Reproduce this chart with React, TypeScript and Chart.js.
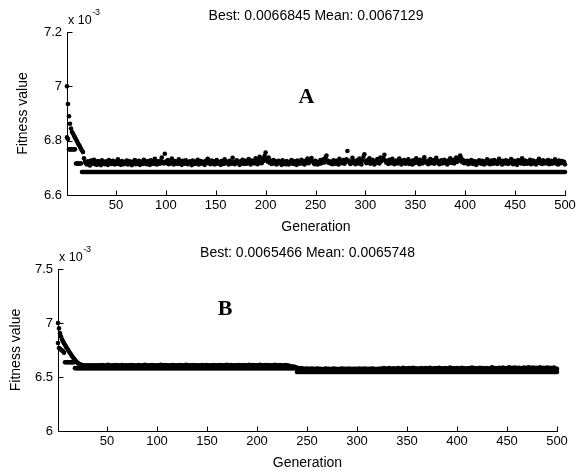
import React, { useEffect, useRef } from "react";
import { Chart, registerables } from "chart.js";

Chart.register(...registerables);

// ---------- data (values in units of 1e-3) ----------
const generations: number[] = Array.from({ length: 500 }, (_, i) => i + 1);
const xTickValues = [50, 100, 150, 200, 250, 300, 350, 400, 450, 500];
const yTicksA = [6.6, 6.8, 7.0, 7.2];
const yTicksB = [6.0, 6.5, 7.0, 7.5];
const titleA = "Best: 0.0066845 Mean: 0.0067129";
const titleB = "Best: 0.0065466 Mean: 0.0065748";

const bestA = [
  6.812, 6.806, 6.768, 6.768, 6.768, 6.768, 6.768, 6.768, 6.768, 6.716, 6.716, 6.716, 6.716, 6.716, 6.716, 6.6845, 6.6845, 6.6845, 6.6845, 6.6845,
  6.6845, 6.6845, 6.6845, 6.6845, 6.6845, 6.6845, 6.6845, 6.6845, 6.6845, 6.6845, 6.6845, 6.6845, 6.6845, 6.6845, 6.6845, 6.6845, 6.6845, 6.6845, 6.6845, 6.6845,
  6.6845, 6.6845, 6.6845, 6.6845, 6.6845, 6.6845, 6.6845, 6.6845, 6.6845, 6.6845, 6.6845, 6.6845, 6.6845, 6.6845, 6.6845, 6.6845, 6.6845, 6.6845, 6.6845, 6.6845,
  6.6845, 6.6845, 6.6845, 6.6845, 6.6845, 6.6845, 6.6845, 6.6845, 6.6845, 6.6845, 6.6845, 6.6845, 6.6845, 6.6845, 6.6845, 6.6845, 6.6845, 6.6845, 6.6845, 6.6845,
  6.6845, 6.6845, 6.6845, 6.6845, 6.6845, 6.6845, 6.6845, 6.6845, 6.6845, 6.6845, 6.6845, 6.6845, 6.6845, 6.6845, 6.6845, 6.6845, 6.6845, 6.6845, 6.6845, 6.6845,
  6.6845, 6.6845, 6.6845, 6.6845, 6.6845, 6.6845, 6.6845, 6.6845, 6.6845, 6.6845, 6.6845, 6.6845, 6.6845, 6.6845, 6.6845, 6.6845, 6.6845, 6.6845, 6.6845, 6.6845,
  6.6845, 6.6845, 6.6845, 6.6845, 6.6845, 6.6845, 6.6845, 6.6845, 6.6845, 6.6845, 6.6845, 6.6845, 6.6845, 6.6845, 6.6845, 6.6845, 6.6845, 6.6845, 6.6845, 6.6845,
  6.6845, 6.6845, 6.6845, 6.6845, 6.6845, 6.6845, 6.6845, 6.6845, 6.6845, 6.6845, 6.6845, 6.6845, 6.6845, 6.6845, 6.6845, 6.6845, 6.6845, 6.6845, 6.6845, 6.6845,
  6.6845, 6.6845, 6.6845, 6.6845, 6.6845, 6.6845, 6.6845, 6.6845, 6.6845, 6.6845, 6.6845, 6.6845, 6.6845, 6.6845, 6.6845, 6.6845, 6.6845, 6.6845, 6.6845, 6.6845,
  6.6845, 6.6845, 6.6845, 6.6845, 6.6845, 6.6845, 6.6845, 6.6845, 6.6845, 6.6845, 6.6845, 6.6845, 6.6845, 6.6845, 6.6845, 6.6845, 6.6845, 6.6845, 6.6845, 6.6845,
  6.6845, 6.6845, 6.6845, 6.6845, 6.6845, 6.6845, 6.6845, 6.6845, 6.6845, 6.6845, 6.6845, 6.6845, 6.6845, 6.6845, 6.6845, 6.6845, 6.6845, 6.6845, 6.6845, 6.6845,
  6.6845, 6.6845, 6.6845, 6.6845, 6.6845, 6.6845, 6.6845, 6.6845, 6.6845, 6.6845, 6.6845, 6.6845, 6.6845, 6.6845, 6.6845, 6.6845, 6.6845, 6.6845, 6.6845, 6.6845,
  6.6845, 6.6845, 6.6845, 6.6845, 6.6845, 6.6845, 6.6845, 6.6845, 6.6845, 6.6845, 6.6845, 6.6845, 6.6845, 6.6845, 6.6845, 6.6845, 6.6845, 6.6845, 6.6845, 6.6845,
  6.6845, 6.6845, 6.6845, 6.6845, 6.6845, 6.6845, 6.6845, 6.6845, 6.6845, 6.6845, 6.6845, 6.6845, 6.6845, 6.6845, 6.6845, 6.6845, 6.6845, 6.6845, 6.6845, 6.6845,
  6.6845, 6.6845, 6.6845, 6.6845, 6.6845, 6.6845, 6.6845, 6.6845, 6.6845, 6.6845, 6.6845, 6.6845, 6.6845, 6.6845, 6.6845, 6.6845, 6.6845, 6.6845, 6.6845, 6.6845,
  6.6845, 6.6845, 6.6845, 6.6845, 6.6845, 6.6845, 6.6845, 6.6845, 6.6845, 6.6845, 6.6845, 6.6845, 6.6845, 6.6845, 6.6845, 6.6845, 6.6845, 6.6845, 6.6845, 6.6845,
  6.6845, 6.6845, 6.6845, 6.6845, 6.6845, 6.6845, 6.6845, 6.6845, 6.6845, 6.6845, 6.6845, 6.6845, 6.6845, 6.6845, 6.6845, 6.6845, 6.6845, 6.6845, 6.6845, 6.6845,
  6.6845, 6.6845, 6.6845, 6.6845, 6.6845, 6.6845, 6.6845, 6.6845, 6.6845, 6.6845, 6.6845, 6.6845, 6.6845, 6.6845, 6.6845, 6.6845, 6.6845, 6.6845, 6.6845, 6.6845,
  6.6845, 6.6845, 6.6845, 6.6845, 6.6845, 6.6845, 6.6845, 6.6845, 6.6845, 6.6845, 6.6845, 6.6845, 6.6845, 6.6845, 6.6845, 6.6845, 6.6845, 6.6845, 6.6845, 6.6845,
  6.6845, 6.6845, 6.6845, 6.6845, 6.6845, 6.6845, 6.6845, 6.6845, 6.6845, 6.6845, 6.6845, 6.6845, 6.6845, 6.6845, 6.6845, 6.6845, 6.6845, 6.6845, 6.6845, 6.6845,
  6.6845, 6.6845, 6.6845, 6.6845, 6.6845, 6.6845, 6.6845, 6.6845, 6.6845, 6.6845, 6.6845, 6.6845, 6.6845, 6.6845, 6.6845, 6.6845, 6.6845, 6.6845, 6.6845, 6.6845,
  6.6845, 6.6845, 6.6845, 6.6845, 6.6845, 6.6845, 6.6845, 6.6845, 6.6845, 6.6845, 6.6845, 6.6845, 6.6845, 6.6845, 6.6845, 6.6845, 6.6845, 6.6845, 6.6845, 6.6845,
  6.6845, 6.6845, 6.6845, 6.6845, 6.6845, 6.6845, 6.6845, 6.6845, 6.6845, 6.6845, 6.6845, 6.6845, 6.6845, 6.6845, 6.6845, 6.6845, 6.6845, 6.6845, 6.6845, 6.6845,
  6.6845, 6.6845, 6.6845, 6.6845, 6.6845, 6.6845, 6.6845, 6.6845, 6.6845, 6.6845, 6.6845, 6.6845, 6.6845, 6.6845, 6.6845, 6.6845, 6.6845, 6.6845, 6.6845, 6.6845,
  6.6845, 6.6845, 6.6845, 6.6845, 6.6845, 6.6845, 6.6845, 6.6845, 6.6845, 6.6845, 6.6845, 6.6845, 6.6845, 6.6845, 6.6845, 6.6845, 6.6845, 6.6845, 6.6845, 6.6845,
];

const meanA = [
  7.000, 6.935, 6.890, 6.862, 6.845, 6.832, 6.826, 6.818, 6.812, 6.805, 6.798, 6.790, 6.784, 6.778, 6.770, 6.764, 6.758, 6.735, 6.722, 6.716,
  6.712, 6.724, 6.718, 6.709, 6.727, 6.715, 6.721, 6.730, 6.713, 6.719, 6.711, 6.725, 6.717, 6.722, 6.710, 6.728, 6.716, 6.720, 6.713, 6.724,
  6.718, 6.711, 6.729, 6.715, 6.721, 6.714, 6.726, 6.719, 6.712, 6.723, 6.716, 6.731, 6.714, 6.720, 6.711, 6.725, 6.718, 6.713, 6.722, 6.717,
  6.727, 6.712, 6.719, 6.724, 6.715, 6.710, 6.722, 6.716, 6.729, 6.713, 6.720, 6.717, 6.726, 6.711, 6.723, 6.718, 6.714, 6.730, 6.716, 6.721,
  6.713, 6.725, 6.719, 6.711, 6.728, 6.716, 6.722, 6.714, 6.733, 6.718, 6.712, 6.724, 6.720, 6.715, 6.727, 6.738, 6.721, 6.716, 6.752, 6.723,
  6.717, 6.729, 6.713, 6.721, 6.716, 6.734, 6.719, 6.712, 6.725, 6.718, 6.722, 6.714, 6.731, 6.717, 6.720, 6.711, 6.726, 6.719, 6.715, 6.728,
  6.721, 6.713, 6.718, 6.724, 6.716, 6.710, 6.727, 6.719, 6.714, 6.723, 6.717, 6.730, 6.712, 6.720, 6.725, 6.715, 6.722, 6.718, 6.711, 6.726,
  6.719, 6.733, 6.716, 6.721, 6.713, 6.727, 6.718, 6.724, 6.712, 6.720, 6.729, 6.715, 6.722, 6.717, 6.711, 6.725, 6.719, 6.714, 6.731, 6.718,
  6.723, 6.716, 6.712, 6.726, 6.720, 6.715, 6.737, 6.721, 6.713, 6.719, 6.728, 6.717, 6.722, 6.711, 6.724, 6.718, 6.730, 6.714, 6.720, 6.726,
  6.715, 6.721, 6.732, 6.718, 6.712, 6.727, 6.719, 6.724, 6.716, 6.735, 6.720, 6.713, 6.729, 6.741, 6.722, 6.717, 6.733, 6.725, 6.744, 6.756,
  6.731, 6.723, 6.738, 6.719, 6.727, 6.714, 6.721, 6.729, 6.716, 6.724, 6.712, 6.719, 6.726, 6.717, 6.722, 6.711, 6.728, 6.715, 6.720, 6.713,
  6.725, 6.718, 6.712, 6.722, 6.716, 6.729, 6.720, 6.714, 6.724, 6.717, 6.711, 6.727, 6.719, 6.715, 6.721, 6.730, 6.716, 6.723, 6.712, 6.726,
  6.719, 6.734, 6.717, 6.722, 6.728, 6.736, 6.724, 6.719, 6.713, 6.726, 6.718, 6.712, 6.721, 6.715, 6.729, 6.717, 6.723, 6.731, 6.720, 6.738,
  6.745, 6.727, 6.719, 6.724, 6.716, 6.721, 6.713, 6.728, 6.720, 6.715, 6.726, 6.718, 6.712, 6.733, 6.721, 6.717, 6.724, 6.729, 6.715, 6.722,
  6.731, 6.762, 6.727, 6.719, 6.714, 6.723, 6.737, 6.718, 6.725, 6.713, 6.721, 6.729, 6.716, 6.734, 6.720, 6.712, 6.726, 6.740, 6.750, 6.724,
  6.717, 6.728, 6.721, 6.735, 6.715, 6.723, 6.730, 6.719, 6.712, 6.726, 6.718, 6.732, 6.722, 6.716, 6.738, 6.724, 6.729, 6.736, 6.748, 6.727,
  6.719, 6.725, 6.714, 6.730, 6.721, 6.717, 6.733, 6.724, 6.713, 6.720, 6.727, 6.716, 6.722, 6.734, 6.718, 6.712, 6.726, 6.720, 6.729, 6.715,
  6.723, 6.718, 6.731, 6.714, 6.725, 6.720, 6.712, 6.728, 6.717, 6.722, 6.735, 6.719, 6.724, 6.713, 6.730, 6.721, 6.716, 6.727, 6.739, 6.722,
  6.718, 6.726, 6.713, 6.721, 6.732, 6.717, 6.724, 6.729, 6.715, 6.720, 6.737, 6.726, 6.719, 6.713, 6.723, 6.728, 6.716, 6.721, 6.730, 6.718,
  6.724, 6.712, 6.727, 6.720, 6.735, 6.718, 6.723, 6.729, 6.716, 6.731, 6.738, 6.722, 6.733, 6.727, 6.745, 6.736, 6.721, 6.728, 6.717, 6.724,
  6.719, 6.726, 6.713, 6.722, 6.716, 6.729, 6.720, 6.714, 6.725, 6.718, 6.711, 6.723, 6.717, 6.728, 6.721, 6.715, 6.726, 6.719, 6.712, 6.724,
  6.718, 6.731, 6.716, 6.722, 6.713, 6.727, 6.720, 6.715, 6.729, 6.719, 6.724, 6.714, 6.721, 6.733, 6.717, 6.723, 6.712, 6.726, 6.719, 6.716,
  6.728, 6.721, 6.714, 6.725, 6.718, 6.732, 6.720, 6.713, 6.726, 6.717, 6.722, 6.711, 6.729, 6.719, 6.724, 6.716, 6.735, 6.721, 6.714, 6.727,
  6.720, 6.715, 6.724, 6.718, 6.730, 6.713, 6.722, 6.727, 6.716, 6.721, 6.712, 6.725, 6.719, 6.733, 6.717, 6.723, 6.714, 6.728, 6.720, 6.716,
  6.724, 6.718, 6.729, 6.713, 6.721, 6.726, 6.715, 6.722, 6.719, 6.731, 6.716, 6.724, 6.712, 6.727, 6.720, 6.717, 6.725, 6.719, 6.722, 6.7129,
];

const bestB = [
  6.815, 6.768, 6.760, 6.752, 6.745, 6.738, 6.725, 6.636, 6.636, 6.636, 6.636, 6.636, 6.636, 6.636, 6.636, 6.636, 6.636, 6.582, 6.582, 6.582,
  6.582, 6.582, 6.582, 6.582, 6.582, 6.582, 6.582, 6.582, 6.582, 6.582, 6.582, 6.582, 6.582, 6.582, 6.582, 6.582, 6.582, 6.582, 6.582, 6.582,
  6.582, 6.582, 6.582, 6.582, 6.582, 6.582, 6.582, 6.582, 6.582, 6.582, 6.582, 6.582, 6.582, 6.582, 6.582, 6.582, 6.582, 6.582, 6.582, 6.582,
  6.582, 6.582, 6.582, 6.582, 6.582, 6.582, 6.582, 6.582, 6.582, 6.582, 6.582, 6.582, 6.582, 6.582, 6.582, 6.582, 6.582, 6.582, 6.582, 6.582,
  6.582, 6.582, 6.582, 6.582, 6.582, 6.582, 6.582, 6.582, 6.582, 6.582, 6.582, 6.582, 6.582, 6.582, 6.582, 6.582, 6.582, 6.582, 6.582, 6.582,
  6.582, 6.582, 6.582, 6.582, 6.582, 6.582, 6.582, 6.582, 6.582, 6.582, 6.582, 6.582, 6.582, 6.582, 6.582, 6.582, 6.582, 6.582, 6.582, 6.582,
  6.582, 6.582, 6.582, 6.582, 6.582, 6.582, 6.582, 6.582, 6.582, 6.582, 6.582, 6.582, 6.582, 6.582, 6.582, 6.582, 6.582, 6.582, 6.582, 6.582,
  6.582, 6.582, 6.582, 6.582, 6.582, 6.582, 6.582, 6.582, 6.582, 6.582, 6.582, 6.582, 6.582, 6.582, 6.582, 6.582, 6.582, 6.582, 6.582, 6.582,
  6.582, 6.582, 6.582, 6.582, 6.582, 6.582, 6.582, 6.582, 6.582, 6.582, 6.582, 6.582, 6.582, 6.582, 6.582, 6.582, 6.582, 6.582, 6.582, 6.582,
  6.582, 6.582, 6.582, 6.582, 6.582, 6.582, 6.582, 6.582, 6.582, 6.582, 6.582, 6.582, 6.582, 6.582, 6.582, 6.582, 6.582, 6.582, 6.582, 6.582,
  6.582, 6.582, 6.582, 6.582, 6.582, 6.582, 6.582, 6.582, 6.582, 6.582, 6.582, 6.582, 6.582, 6.582, 6.582, 6.582, 6.582, 6.582, 6.582, 6.582,
  6.582, 6.582, 6.582, 6.582, 6.582, 6.582, 6.582, 6.582, 6.582, 6.582, 6.582, 6.582, 6.582, 6.582, 6.582, 6.582, 6.582, 6.582, 6.582, 6.5466,
  6.5466, 6.5466, 6.5466, 6.5466, 6.5466, 6.5466, 6.5466, 6.5466, 6.5466, 6.5466, 6.5466, 6.5466, 6.5466, 6.5466, 6.5466, 6.5466, 6.5466, 6.5466, 6.5466, 6.5466,
  6.5466, 6.5466, 6.5466, 6.5466, 6.5466, 6.5466, 6.5466, 6.5466, 6.5466, 6.5466, 6.5466, 6.5466, 6.5466, 6.5466, 6.5466, 6.5466, 6.5466, 6.5466, 6.5466, 6.5466,
  6.5466, 6.5466, 6.5466, 6.5466, 6.5466, 6.5466, 6.5466, 6.5466, 6.5466, 6.5466, 6.5466, 6.5466, 6.5466, 6.5466, 6.5466, 6.5466, 6.5466, 6.5466, 6.5466, 6.5466,
  6.5466, 6.5466, 6.5466, 6.5466, 6.5466, 6.5466, 6.5466, 6.5466, 6.5466, 6.5466, 6.5466, 6.5466, 6.5466, 6.5466, 6.5466, 6.5466, 6.5466, 6.5466, 6.5466, 6.5466,
  6.5466, 6.5466, 6.5466, 6.5466, 6.5466, 6.5466, 6.5466, 6.5466, 6.5466, 6.5466, 6.5466, 6.5466, 6.5466, 6.5466, 6.5466, 6.5466, 6.5466, 6.5466, 6.5466, 6.5466,
  6.5466, 6.5466, 6.5466, 6.5466, 6.5466, 6.5466, 6.5466, 6.5466, 6.5466, 6.5466, 6.5466, 6.5466, 6.5466, 6.5466, 6.5466, 6.5466, 6.5466, 6.5466, 6.5466, 6.5466,
  6.5466, 6.5466, 6.5466, 6.5466, 6.5466, 6.5466, 6.5466, 6.5466, 6.5466, 6.5466, 6.5466, 6.5466, 6.5466, 6.5466, 6.5466, 6.5466, 6.5466, 6.5466, 6.5466, 6.5466,
  6.5466, 6.5466, 6.5466, 6.5466, 6.5466, 6.5466, 6.5466, 6.5466, 6.5466, 6.5466, 6.5466, 6.5466, 6.5466, 6.5466, 6.5466, 6.5466, 6.5466, 6.5466, 6.5466, 6.5466,
  6.5466, 6.5466, 6.5466, 6.5466, 6.5466, 6.5466, 6.5466, 6.5466, 6.5466, 6.5466, 6.5466, 6.5466, 6.5466, 6.5466, 6.5466, 6.5466, 6.5466, 6.5466, 6.5466, 6.5466,
  6.5466, 6.5466, 6.5466, 6.5466, 6.5466, 6.5466, 6.5466, 6.5466, 6.5466, 6.5466, 6.5466, 6.5466, 6.5466, 6.5466, 6.5466, 6.5466, 6.5466, 6.5466, 6.5466, 6.5466,
  6.5466, 6.5466, 6.5466, 6.5466, 6.5466, 6.5466, 6.5466, 6.5466, 6.5466, 6.5466, 6.5466, 6.5466, 6.5466, 6.5466, 6.5466, 6.5466, 6.5466, 6.5466, 6.5466, 6.5466,
  6.5466, 6.5466, 6.5466, 6.5466, 6.5466, 6.5466, 6.5466, 6.5466, 6.5466, 6.5466, 6.5466, 6.5466, 6.5466, 6.5466, 6.5466, 6.5466, 6.5466, 6.5466, 6.5466, 6.5466,
  6.5466, 6.5466, 6.5466, 6.5466, 6.5466, 6.5466, 6.5466, 6.5466, 6.5466, 6.5466, 6.5466, 6.5466, 6.5466, 6.5466, 6.5466, 6.5466, 6.5466, 6.5466, 6.5466, 6.5466,
];

const meanB = [
  7.000, 6.950, 6.905, 6.875, 6.850, 6.830, 6.812, 6.796, 6.781, 6.766, 6.751, 6.737, 6.722, 6.708, 6.694, 6.680, 6.668, 6.656, 6.645, 6.636,
  6.628, 6.622, 6.617, 6.613, 6.610, 6.606, 6.609, 6.604, 6.607, 6.603, 6.608, 6.605, 6.602, 6.609, 6.604, 6.606, 6.601, 6.608, 6.603, 6.607,
  6.604, 6.609, 6.602, 6.607, 6.611, 6.603, 6.606, 6.600, 6.608, 6.605, 6.612, 6.603, 6.607, 6.601, 6.609, 6.604, 6.606, 6.610, 6.602, 6.605,
  6.608, 6.603, 6.606, 6.601, 6.610, 6.604, 6.607, 6.602, 6.609, 6.605, 6.600, 6.608, 6.604, 6.611, 6.603, 6.606, 6.609, 6.602, 6.607, 6.604,
  6.606, 6.610, 6.603, 6.607, 6.601, 6.608, 6.605, 6.612, 6.604, 6.606, 6.602, 6.609, 6.605, 6.603, 6.610, 6.606, 6.601, 6.608, 6.604, 6.607,
  6.603, 6.609, 6.605, 6.612, 6.602, 6.606, 6.608, 6.604, 6.610, 6.603, 6.607, 6.601, 6.609, 6.605, 6.603, 6.611, 6.606, 6.602, 6.608, 6.604,
  6.607, 6.603, 6.610, 6.605, 6.601, 6.608, 6.604, 6.606, 6.612, 6.603, 6.607, 6.605, 6.609, 6.602, 6.606, 6.610, 6.604, 6.608, 6.603, 6.606,
  6.609, 6.604, 6.607, 6.601, 6.610, 6.605, 6.603, 6.608, 6.606, 6.611, 6.602, 6.607, 6.604, 6.609, 6.605, 6.603, 6.610, 6.606, 6.601, 6.608,
  6.604, 6.607, 6.611, 6.603, 6.606, 6.609, 6.602, 6.608, 6.605, 6.612, 6.604, 6.607, 6.603, 6.610, 6.606, 6.601, 6.609, 6.605, 6.608, 6.603,
  6.606, 6.610, 6.604, 6.608, 6.602, 6.607, 6.611, 6.605, 6.603, 6.609, 6.606, 6.612, 6.604, 6.607, 6.602, 6.610, 6.605, 6.608, 6.603, 6.606,
  6.609, 6.604, 6.612, 6.606, 6.602, 6.608, 6.605, 6.610, 6.603, 6.607, 6.611, 6.604, 6.608, 6.606, 6.602, 6.609, 6.605, 6.612, 6.607, 6.603,
  6.608, 6.605, 6.610, 6.604, 6.607, 6.602, 6.609, 6.606, 6.611, 6.603, 6.607, 6.604, 6.600, 6.598, 6.595, 6.592, 6.596, 6.590, 6.588, 6.585,
  6.583, 6.580, 6.578, 6.582, 6.576, 6.579, 6.574, 6.577, 6.572, 6.578, 6.575, 6.571, 6.576, 6.573, 6.579, 6.570, 6.574, 6.577, 6.572, 6.575,
  6.578, 6.573, 6.570, 6.576, 6.572, 6.574, 6.569, 6.575, 6.579, 6.571, 6.574, 6.577, 6.572, 6.570, 6.576, 6.573, 6.578, 6.571, 6.575, 6.572,
  6.574, 6.570, 6.577, 6.573, 6.579, 6.572, 6.575, 6.569, 6.576, 6.573, 6.571, 6.578, 6.574, 6.572, 6.576, 6.570, 6.575, 6.573, 6.577, 6.571,
  6.574, 6.578, 6.572, 6.575, 6.570, 6.576, 6.573, 6.579, 6.571, 6.574, 6.577, 6.572, 6.575, 6.570, 6.578, 6.573, 6.576, 6.571, 6.574, 6.572,
  6.577, 6.573, 6.575, 6.570, 6.578, 6.574, 6.582, 6.576, 6.572, 6.579, 6.575, 6.584, 6.573, 6.577, 6.571, 6.580, 6.576, 6.572, 6.578, 6.575,
  6.583, 6.574, 6.579, 6.572, 6.576, 6.585, 6.577, 6.573, 6.580, 6.575, 6.571, 6.582, 6.576, 6.579, 6.574, 6.586, 6.578, 6.573, 6.581, 6.576,
  6.572, 6.579, 6.575, 6.584, 6.577, 6.573, 6.580, 6.576, 6.582, 6.574, 6.578, 6.571, 6.585, 6.577, 6.573, 6.579, 6.575, 6.583, 6.576, 6.580,
  6.574, 6.586, 6.578, 6.573, 6.581, 6.576, 6.572, 6.583, 6.577, 6.575, 6.580, 6.574, 6.587, 6.578, 6.573, 6.582, 6.576, 6.579, 6.574, 6.584,
  6.577, 6.573, 6.580, 6.575, 6.585, 6.578, 6.572, 6.581, 6.576, 6.579, 6.574, 6.583, 6.577, 6.573, 6.588, 6.579, 6.575, 6.582, 6.576, 6.574,
  6.580, 6.575, 6.586, 6.578, 6.573, 6.582, 6.576, 6.579, 6.574, 6.584, 6.577, 6.572, 6.581, 6.576, 6.589, 6.578, 6.574, 6.583, 6.577, 6.580,
  6.575, 6.585, 6.578, 6.573, 6.582, 6.587, 6.576, 6.580, 6.574, 6.584, 6.578, 6.590, 6.581, 6.575, 6.586, 6.579, 6.583, 6.588, 6.577, 6.582,
  6.576, 6.585, 6.579, 6.574, 6.583, 6.577, 6.588, 6.581, 6.575, 6.586, 6.580, 6.589, 6.578, 6.584, 6.576, 6.587, 6.582, 6.579, 6.585, 6.577,
  6.583, 6.578, 6.589, 6.581, 6.576, 6.586, 6.580, 6.584, 6.577, 6.588, 6.582, 6.579, 6.585, 6.576, 6.583, 6.580, 6.587, 6.578, 6.576, 6.5748,
];

// ---------- drawing ----------
const SANS = '"Liberation Sans", Arial, Helvetica, sans-serif';
const SERIF = '"Liberation Serif", "Times New Roman", serif';
const CANVAS_W = 576;
const CANVAS_H = 236;

const decorPlugin = {
  id: "decor",
  afterDraw(chart: any, _args: any, opts: any) {
    const { ctx, chartArea: ca, scales } = chart;
    const xs = scales.x;
    const ys = scales.y;
    ctx.save();
    ctx.strokeStyle = "#000";
    ctx.lineWidth = 1;
    // axis lines
    const bx = Math.round(ca.bottom) + 0.5;
    const lx = Math.round(ca.left) + 0.5;
    ctx.beginPath();
    ctx.moveTo(lx, Math.round(ca.top));
    ctx.lineTo(lx, bx);
    ctx.lineTo(Math.round(ca.right) + 1, bx);
    ctx.stroke();
    // inward tick marks
    ctx.beginPath();
    xs.ticks.forEach((t: any) => {
      const px = Math.round(xs.getPixelForValue(t.value)) + 0.5;
      ctx.moveTo(px, bx);
      ctx.lineTo(px, bx - 5);
    });
    ys.ticks.forEach((t: any) => {
      const py = Math.round(ys.getPixelForValue(t.value)) + 0.5;
      ctx.moveTo(lx, py);
      ctx.lineTo(lx + 5, py);
    });
    ctx.stroke();

    ctx.fillStyle = "#000";
    // title
    ctx.font = `14px ${SANS}`;
    ctx.textAlign = "center";
    ctx.textBaseline = "alphabetic";
    ctx.fillText(opts.title, (ca.left + ca.right) / 2, ca.top - 12);
    // x label
    ctx.fillText("Generation", (ca.left + ca.right) / 2, ca.bottom + 36);
    // exponent label
    ctx.textAlign = "left";
    ctx.font = `12.5px ${SANS}`;
    ctx.fillText("x 10", ca.left + 1, ca.top - 8);
    const w = ctx.measureText("x 10").width;
    ctx.font = `9px ${SANS}`;
    ctx.fillText("-3", ca.left + 1 + w + 0.5, ca.top - 17);
    // panel letter (placed in data coordinates)
    ctx.font = `bold 22px ${SERIF}`;
    ctx.textAlign = "center";
    ctx.fillText(
      opts.letter,
      xs.getPixelForValue(opts.letterX),
      ys.getPixelForValue(opts.letterY) + 7.5
    );
    // y label
    ctx.font = `14px ${SANS}`;
    ctx.translate(opts.ylabelX, (ca.top + ca.bottom) / 2);
    ctx.rotate(-Math.PI / 2);
    ctx.textBaseline = "middle";
    ctx.fillText("Fitness value", 0, 0);
    ctx.restore();
  },
};

type PanelProps = {
  best: number[];
  mean: number[];
  yTicks: number[];
  title: string;
  letter: string;
  letterX: number;
  letterY: number;
  plotLeft: number;
  plotRight: number;
  plotTop: number;
  plotBottom: number;
  ylabelX: number;
  top: number;
};

function Panel(p: PanelProps) {
  const ref = useRef<HTMLCanvasElement | null>(null);
  useEffect(() => {
    const canvas = ref.current;
    if (!canvas) return;
    const toPts = (arr: number[]) => generations.map((g, i) => ({ x: g, y: arr[i] }));
    const pointStyle = {
      showLine: false,
      pointRadius: 2.3,
      pointHoverRadius: 2.3,
      pointBackgroundColor: "#000",
      pointBorderColor: "#000",
      pointBorderWidth: 0,
      clip: false as any,
    };
    const chart = new Chart(canvas, {
      type: "scatter",
      data: {
        datasets: [
          { label: "Best", data: toPts(p.best), ...pointStyle },
          { label: "Mean", data: toPts(p.mean), ...pointStyle },
        ],
      },
      options: {
        animation: false,
        responsive: false,
        devicePixelRatio: 1,
        events: [],
        layout: {
          padding: { left: 0, top: p.plotTop, right: CANVAS_W - p.plotRight, bottom: 0 },
        },
        plugins: {
          legend: { display: false },
          tooltip: { enabled: false },
          title: { display: false },
          decor: {
            title: p.title,
            letter: p.letter,
            letterX: p.letterX,
            letterY: p.letterY,
            ylabelX: p.ylabelX,
          },
        } as any,
        scales: {
          x: {
            type: "linear",
            min: 1,
            max: 500,
            grid: { display: false, drawTicks: false },
            border: { display: false },
            afterBuildTicks: (s: any) => {
              s.ticks = xTickValues.map((v) => ({ value: v }));
            },
            afterFit: (s: any) => {
              s.height = CANVAS_H - p.plotBottom;
              s.paddingLeft = 0;
              s.paddingRight = 0;
            },
            ticks: {
              color: "#000",
              padding: 3,
              maxRotation: 0,
              autoSkip: false,
              font: { family: SANS, size: 13 },
              callback: (v: any) => String(v),
            },
          },
          y: {
            type: "linear",
            min: p.yTicks[0],
            max: p.yTicks[p.yTicks.length - 1],
            grid: { display: false, drawTicks: false },
            border: { display: false },
            afterBuildTicks: (s: any) => {
              s.ticks = p.yTicks.map((v) => ({ value: v }));
            },
            afterFit: (s: any) => {
              s.width = p.plotLeft;
              s.paddingTop = 0;
              s.paddingBottom = 0;
            },
            ticks: {
              color: "#000",
              padding: 5,
              autoSkip: false,
              font: { family: SANS, size: 13 },
              callback: (v: any) => String(Number(v)),
            },
          },
        },
      },
      plugins: [decorPlugin as any],
    });
    return () => chart.destroy();
  }, []);
  return (
    <canvas
      ref={ref}
      width={CANVAS_W}
      height={CANVAS_H}
      style={{ position: "absolute", left: 0, top: p.top, width: CANVAS_W, height: CANVAS_H }}
    />
  );
}

export default function App() {
  return (
    <div
      style={{
        position: "fixed",
        left: 0,
        top: 0,
        width: 576,
        height: 472,
        background: "#fff",
        overflow: "hidden",
      }}
    >
      <Panel
        best={bestA}
        mean={meanA}
        yTicks={yTicksA}
        title={titleA}
        letter="A"
        letterX={241}
        letterY={6.967}
        plotLeft={67}
        plotRight={565}
        plotTop={32}
        plotBottom={195}
        ylabelX={23}
        top={0}
      />
      <Panel
        best={bestB}
        mean={meanB}
        yTicks={yTicksB}
        title={titleB}
        letter="B"
        letterX={168}
        letterY={7.146}
        plotLeft={58}
        plotRight={557}
        plotTop={33}
        plotBottom={195}
        ylabelX={16}
        top={236}
      />
    </div>
  );
}
